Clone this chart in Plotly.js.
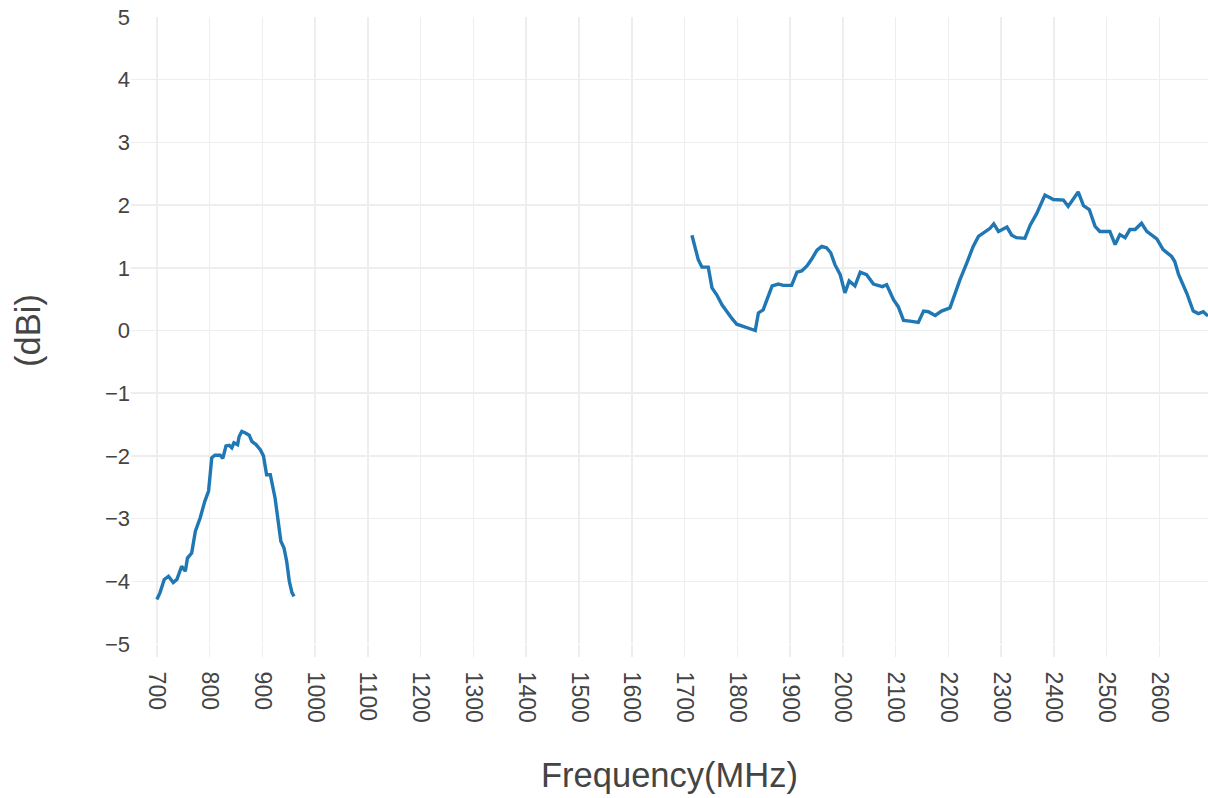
<!DOCTYPE html>
<html>
<head>
<meta charset="utf-8">
<script src="https://cdn.plot.ly/plotly-3.0.1.min.js"></script>
<style>html,body{margin:0;padding:0;background:#fff;}#chart{width:1208px;height:798px;}</style>
</head>
<body>
<div id="chart"></div>
<script>
// Low band (MHz, dBi)
const lowFreq = [700,706,714,722,731,738,747,754,758,766,773,782,791,798,801,804,810,820,825,831,837,842,846,853,856,861,867,875,880,888,896,902,908,915,924,930,935,941,946,951,956,960];
const lowGain = [-4.29,-4.18,-3.97,-3.92,-4.02,-3.97,-3.76,-3.84,-3.63,-3.55,-3.20,-2.99,-2.72,-2.56,-2.30,-2.03,-1.99,-1.99,-2.04,-1.84,-1.83,-1.87,-1.79,-1.82,-1.69,-1.61,-1.63,-1.67,-1.77,-1.82,-1.90,-2.00,-2.30,-2.30,-2.67,-3.04,-3.36,-3.47,-3.68,-4.00,-4.18,-4.24];

// High band (MHz, dBi)
const highFreq = [1714,1720,1726,1733,1739,1745,1752,1761,1771,1780,1789,1799,1808,1818,1827,1834,1840,1849,1859,1866,1878,1887,1903,1913,1922,1932,1941,1951,1960,1969,1977,1985,1995,2004,2012,2023,2033,2045,2058,2075,2083,2096,2105,2115,2127,2143,2153,2162,2175,2187,2203,2213,2222,2235,2247,2257,2269,2279,2286,2295,2311,2320,2329,2345,2355,2367,2383,2399,2418,2427,2446,2456,2467,2478,2487,2506,2516,2525,2535,2544,2554,2566,2576,2595,2607,2623,2629,2636,2652,2664,2674,2683,2692];
const highGain = [1.52,1.34,1.13,1.01,1.01,1.01,0.68,0.57,0.41,0.30,0.20,0.10,0.07,0.05,0.02,0.00,0.28,0.33,0.57,0.71,0.74,0.72,0.72,0.93,0.95,1.03,1.14,1.28,1.34,1.32,1.24,1.05,0.89,0.60,0.79,0.71,0.93,0.89,0.74,0.70,0.73,0.49,0.38,0.16,0.15,0.13,0.31,0.30,0.24,0.31,0.36,0.60,0.81,1.08,1.34,1.50,1.58,1.63,1.70,1.58,1.65,1.52,1.48,1.47,1.68,1.86,2.16,2.09,2.08,1.98,2.21,1.99,1.93,1.66,1.58,1.58,1.37,1.53,1.48,1.61,1.61,1.71,1.58,1.46,1.29,1.18,1.10,0.90,0.59,0.31,0.27,0.30,0.23];

const xTicks = [700,800,900,1000,1100,1200,1300,1400,1500,1600,1700,1800,1900,2000,2100,2200,2300,2400,2500,2600];
const yTicks = [-5,-4,-3,-2,-1,0,1,2,3,4,5];

const xs = lowFreq.concat([null], highFreq);
const ys = lowGain.concat([null], highGain);

const fontFam = 'Arial, "Liberation Sans", sans-serif';
const trace = {
  x: xs, y: ys, type: 'scatter', mode: 'lines',
  line: {color: '#1f77b4', width: 3.4, shape: 'linear'},
  connectgaps: false, hoverinfo: 'x+y'
};
const layout = {
  width: 1208, height: 798,
  margin: {l: 131, r: 0, t: 17, b: 154},
  paper_bgcolor: '#fff', plot_bgcolor: '#fff',
  showlegend: false,
  font: {family: fontFam, color: '#444'},
  xaxis: {
    range: [651, 2692], tickmode: 'array', tickvals: xTicks, ticktext: xTicks.map(String),
    tickangle: 90, tickfont: {size: 23, color: '#444', family: fontFam},
    showgrid: true, gridcolor: '#eeeeee', gridwidth: 1.5, zeroline: false,
    ticks: 'outside', ticklen: 12, tickcolor: '#eeeeee', tickwidth: 1.5,
    ticklabelstandoff: 10,
    showline: false, automargin: false,
    title: {text: 'Frequency(MHz)', font: {size: 34.5, color: '#444', family: fontFam}, standoff: 41}
  },
  yaxis: {
    range: [-5, 5], tickmode: 'array', tickvals: yTicks,
    tickfont: {size: 22, color: '#444', family: fontFam},
    showgrid: true, gridcolor: '#eeeeee', gridwidth: 1.5, zeroline: false,
    showline: false, automargin: false,
    title: {text: '(dBi)', font: {size: 34.5, color: '#444', family: fontFam}, standoff: 53}
  }
};
Plotly.newPlot('chart', [trace], layout, {displayModeBar: false, staticPlot: true});
</script>
</body>
</html>
